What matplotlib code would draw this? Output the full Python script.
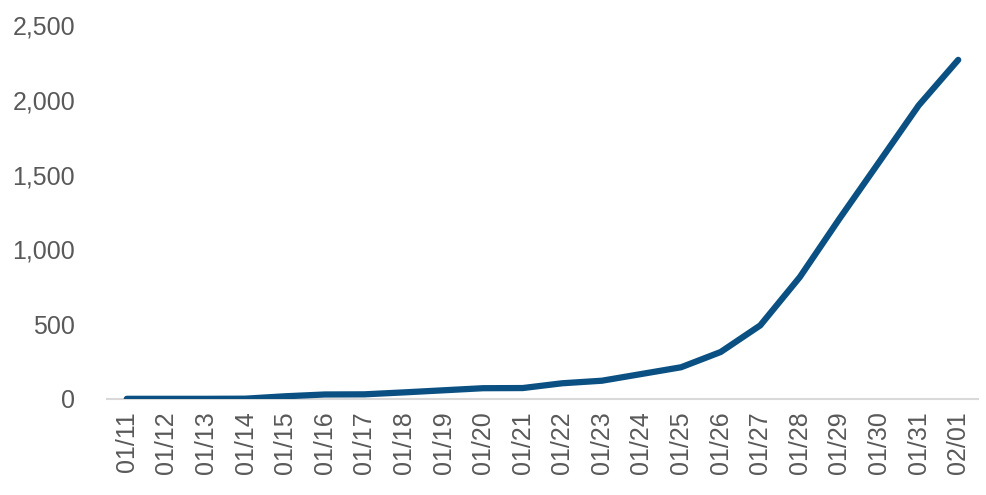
import matplotlib.pyplot as plt
from matplotlib.ticker import FuncFormatter

dates = ['01/11', '01/12', '01/13', '01/14', '01/15', '01/16', '01/17', '01/18',
         '01/19', '01/20', '01/21', '01/22', '01/23', '01/24', '01/25', '01/26',
         '01/27', '01/28', '01/29', '01/30', '01/31', '02/01']
values = [1, 1, 1, 2, 18, 30, 31, 44, 58, 72, 73, 105, 122, 167, 212, 314,
          492, 815, 1205, 1583, 1962, 2267]

plt.rcParams['font.family'] = ['Liberation Sans', 'DejaVu Sans']

fig = plt.figure(figsize=(9.87, 4.95), dpi=100)
ax = fig.add_axes([0.1084, 0.194, 0.8825, 0.7555])

x = list(range(len(dates)))
ax.plot(x, values, color='#0b5083', linewidth=4.5, solid_capstyle='round',
        solid_joinstyle='round', zorder=3)

ax.set_xlim(-0.5, len(dates) - 0.5)
ax.set_ylim(0, 2500)
ax.set_yticks([0, 500, 1000, 1500, 2000, 2500])
ax.yaxis.set_major_formatter(FuncFormatter(lambda v, p: '{:,.0f}'.format(v)))
ax.set_xticks(x)
ax.set_xticklabels(dates, rotation=90)

for side in ['top', 'right', 'left']:
    ax.spines[side].set_visible(False)
ax.spines['bottom'].set_color('#d9d9d9')
ax.spines['bottom'].set_linewidth(1.5)

ax.tick_params(axis='both', length=0, labelsize=18, labelcolor='#595959')
ax.tick_params(axis='x', pad=9)
ax.tick_params(axis='y', pad=23)

fig.savefig('out.png', dpi=100)
